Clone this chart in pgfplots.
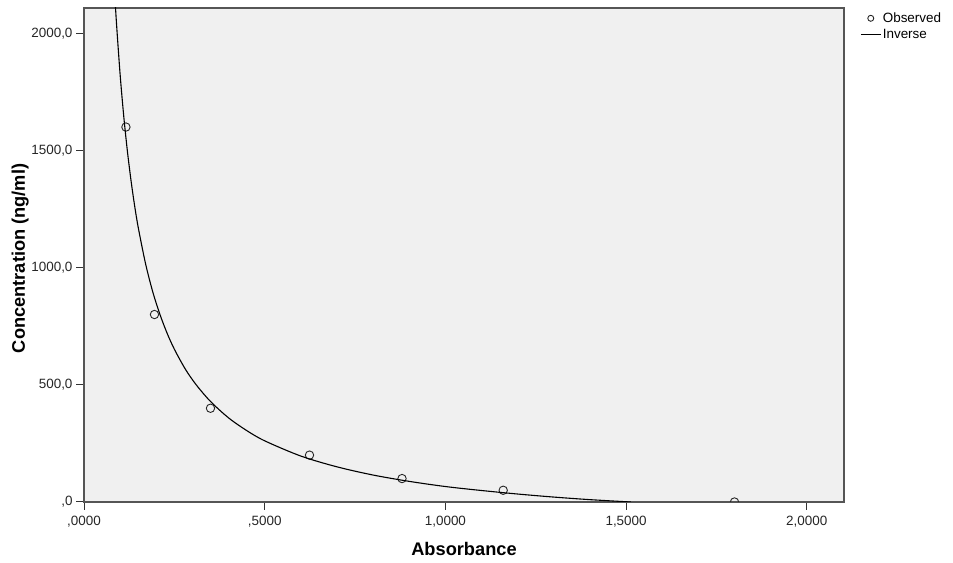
\documentclass[border=0pt]{standalone}
\usepackage{pgfplots}
\pgfplotsset{compat=1.18}
\usepackage{fontspec}
\setmainfont{Liberation Sans}
\definecolor{plotbg}{HTML}{F0F0F0}
\definecolor{frame}{HTML}{555555}

\begin{document}
\begin{tikzpicture}[x=1bp,y=1bp]
\path[use as bounding box] (0,0) rectangle (953,563);
\begin{axis}[
    at={(84bp,61bp)}, anchor=south west,
    width=760bp, height=494bp, scale only axis,
    xmin=0, xmax=2.103, ymin=0, ymax=2108,
    xtick={0,0.5,1,1.5,2},
    xticklabels={{,0000},{,5000},{1,0000},{1,5000},{2,0000}},
    ytick={0,500,1000,1500,2000},
    yticklabels={{,0},{500,0},{1000,0},{1500,0},{2000,0}},
    tick align=outside, major tick length=8bp,
    xtick pos=bottom, ytick pos=left,
    axis background/.style={fill=plotbg},
    axis line style={frame, line width=1.2bp},
    tick style={black!80, line width=1bp},
    tick label style={font=\fontsize{13.5}{15}\selectfont, black!85},
    xticklabel style={yshift=-3bp},
    xlabel={\textbf{Absorbance}},
    ylabel={\textbf{Concentration (ng/ml)}},
    label style={font=\fontsize{18.3}{20}\selectfont},
    xlabel style={at={(axis description cs:0.5,-0.096)}, anchor=center},
    ylabel style={at={(axis description cs:-0.084,0.493)}, anchor=center},
    clip marker paths=true,
    legend style={at={(axis description cs:1,1)}, anchor=north west,
        xshift=14bp, yshift=-1bp, draw=none, fill=none,
        font=\fontsize{13.5}{15}\selectfont, row sep=2bp,
        inner sep=2bp, nodes={inner sep=1.5bp}},
    legend cell align=left,
]
\addplot[only marks, mark=o, mark size=4.2bp, black!85, line width=0.9bp,
    legend image code/.code={\draw[black!85, line width=0.9bp] (10bp,0) circle (3bp);}]
coordinates {
    (0.116,1600) (0.195,800) (0.350,400) (0.624,200)
    (0.880,100) (1.160,50) (1.800,0)
};
\addlegendentry{Observed}
\addplot[black, line width=1.1bp, smooth,
    legend image code/.code={\draw[black, line width=1.1bp] (0,0) -- (20bp,0);}]
coordinates {
    (0.085,2167) (0.090,2040) (0.100,1823) (0.110,1646) (0.120,1498)
    (0.130,1373) (0.140,1265) (0.150,1172) (0.170,1019) (0.190,898)
    (0.210,801) (0.230,720) (0.250,652) (0.280,568) (0.310,501)
    (0.350,429) (0.400,359) (0.450,305) (0.500,261) (0.600,196)
    (0.700,150) (0.800,115) (0.900,88) (1.000,66) (1.100,49)
    (1.200,34) (1.300,21) (1.400,10) (1.513,0)
};
\addlegendentry{Inverse}
\end{axis}
\end{tikzpicture}
\end{document}
